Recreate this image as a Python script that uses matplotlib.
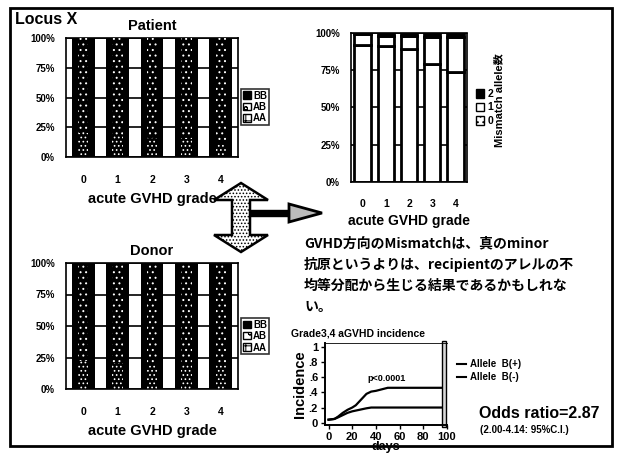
import numpy as np
import matplotlib
matplotlib.use("Agg")
import matplotlib.pyplot as plt
from matplotlib.patches import Patch, Polygon, Rectangle
from matplotlib.lines import Line2D

plt.rcParams['font.family'] = ['Liberation Sans', 'Noto Sans CJK JP']
plt.rcParams['font.weight'] = 'bold'
plt.rcParams['axes.titleweight'] = 'bold'
plt.rcParams['axes.labelweight'] = 'bold'
plt.rcParams['hatch.linewidth'] = 0.7

# genotype distribution (%) by acute GVHD grade
grades = ['0', '1', '2', '3', '4']
patient_AA = [20, 18, 16, 15, 12]
patient_AB = [50, 48, 50, 47, 45]
patient_BB = [30, 34, 34, 38, 43]
donor_AA = [22, 21, 20, 19, 20]
donor_AB = [48, 50, 49, 50, 48]
donor_BB = [30, 29, 31, 31, 32]

# number of mismatched alleles (%)
mm_0 = [92, 91, 89, 79, 74]
mm_1 = [7, 7, 9, 18, 23]
mm_2 = [1, 2, 2, 3, 3]

# cumulative incidence of grade 3-4 aGVHD
days = [0, 5, 8, 12, 16, 20, 23, 26, 29, 32, 36, 40, 45, 50, 60, 95]
inc_pos = [0.04, 0.05, 0.08, 0.13, 0.17, 0.20, 0.23, 0.28, 0.33, 0.38, 0.41, 0.42, 0.44, 0.46, 0.46, 0.46]
inc_neg = [0.04, 0.05, 0.07, 0.10, 0.13, 0.15, 0.16, 0.17, 0.18, 0.19, 0.20, 0.20, 0.20, 0.20, 0.20, 0.20]

comment_lines = ["GVHD方向のMismatchは、真のminor",
                 "抗原というよりは、recipientのアレルの不",
                 "均等分配から生じる結果であるかもしれな",
                 "い。"]

W, H = 620, 458
fig = plt.figure(figsize=(W / 100, H / 100), dpi=100)


def px(x, y):
    return x / W, 1 - y / H


def ax_at(x0, y0, x1, y1):
    return fig.add_axes([x0 / W, 1 - y1 / H, (x1 - x0) / W, (y1 - y0) / H])


def pct_axes(ax, pad_x):
    ax.set_xlim(-0.5, 4.5)
    ax.set_ylim(0, 100)
    ax.set_yticks([0, 25, 50, 75, 100])
    ax.set_yticklabels(['0%', '25%', '50%', '75%', '100%'], fontsize=7)
    ax.set_xticks(range(5))
    ax.set_xticklabels(grades, fontsize=7.5)
    ax.tick_params(length=0, pad=pad_x, axis='x')
    ax.tick_params(length=0, pad=8, axis='y')
    ax.yaxis.grid(True, color='black', lw=1.2)
    ax.set_axisbelow(True)
    for s in ax.spines.values():
        s.set_color('black')
        s.set_linewidth(1.2)
    ax.set_xlabel('acute GVHD grade', fontsize=10.5, labelpad=5)


def genotype_bars(ax, AA, AB, BB, title):
    x = np.arange(5)
    ax.bar(x, AA, width=0.66, color='black', zorder=2)
    ax.bar(x, AB, bottom=AA, width=0.66, color='black', zorder=2)
    ax.bar(x, BB, bottom=np.add(AA, AB), width=0.66, color='black', zorder=2)
    # speckled inner texture of the stacked segments
    ax.bar(x, AA, width=0.3, facecolor='none', edgecolor='white', hatch='....', lw=0, zorder=3)
    ax.bar(x, AB, bottom=AA, width=0.3, facecolor='none', edgecolor='white', hatch='...', lw=0, zorder=3)
    ax.bar(x, BB, bottom=np.add(AA, AB), width=0.3, facecolor='none', edgecolor='white', hatch='...', lw=0, zorder=3)
    pct_axes(ax, 13)
    ax.set_title(title, fontsize=10.5, pad=6)
    handles = [Patch(facecolor='black', edgecolor='black'),
               Patch(facecolor='white', edgecolor='black', hatch='oo'),
               Patch(facecolor='white', edgecolor='black', hatch='++')]
    leg = ax.legend(handles, ['BB', 'AB', 'AA'], loc='center left', bbox_to_anchor=(1.02, 0.42),
                    fontsize=7, handlelength=0.8, handleheight=0.8, handletextpad=0.2,
                    borderpad=0.2, labelspacing=0.15, frameon=True, fancybox=False, borderaxespad=0)
    leg.get_frame().set_edgecolor('black')
    leg.get_frame().set_linewidth(1.2)


ax1 = ax_at(66, 38, 238, 157)
genotype_bars(ax1, patient_AA, patient_AB, patient_BB, 'Patient')

ax2 = ax_at(66, 263, 238, 389)
genotype_bars(ax2, donor_AA, donor_AB, donor_BB, 'Donor')

# mismatch allele chart
ax3 = ax_at(351, 33, 467, 182)
x = np.arange(5)
ax3.bar(x, mm_0, width=0.7, facecolor='white', edgecolor='black', lw=2, zorder=2)
ax3.bar(x, mm_1, bottom=mm_0, width=0.7, facecolor='white', edgecolor='black', lw=2, zorder=2)
ax3.bar(x, mm_2, bottom=np.add(mm_0, mm_1), width=0.7, facecolor='black', edgecolor='black', lw=2, zorder=2)
pct_axes(ax3, 12)
ax3.spines['right'].set_linestyle((0, (2, 1)))
ax3.set_xlabel('acute GVHD grade', fontsize=10, labelpad=4)
mm_handles = [Patch(facecolor='black', edgecolor='black', hatch='xx'),
              Patch(facecolor='white', edgecolor='black'),
              Patch(facecolor='white', edgecolor='black', hatch='...')]
ax3.legend(mm_handles, ['2', '1', '0'], loc='center left', bbox_to_anchor=(1.04, 0.5),
           fontsize=7.5, handlelength=0.8, handleheight=0.9, handletextpad=0.3,
           labelspacing=0.35, frameon=False, borderaxespad=0)
fig.text(*px(499, 100), 'Mismatch allele数', rotation=90, ha='center', va='center', fontsize=8)

# incidence curves
ax4 = ax_at(325, 343, 447, 425)
ax4.plot(days, inc_pos, color='black', lw=1.6)
ax4.plot(days, inc_neg, color='black', lw=1.6)
ax4.axvspan(96, 99.5, ymin=-0.03, ymax=1.03, facecolor='#d8d8d8', edgecolor='black', lw=1, clip_on=False)
ax4.set_xlim(-3, 100)
ax4.set_ylim(-0.03, 1.05)
ax4.set_xticks([0, 20, 40, 60, 80, 100])
ax4.set_yticks([0, 0.2, 0.4, 0.6, 0.8, 1.0])
ax4.set_yticklabels(['0', '.2', '.4', '.6', '.8', '1'])
ax4.tick_params(labelsize=8, length=3, width=1, pad=2)
ax4.spines['right'].set_visible(False)
ax4.spines['top'].set_linewidth(0.6)
for s in ['left', 'bottom']:
    ax4.spines[s].set_linewidth(1.4)
ax4.set_xlabel('days', fontsize=9, labelpad=-1)
ax4.set_ylabel('Incidence', fontsize=10.5, labelpad=1)
ax4.set_title('Grade3,4 aGVHD incidence', fontsize=7.5, pad=5, loc='left', x=-0.28)
ax4.text(33, 0.55, 'p<0.0001', fontsize=6.5)
ax4.legend([Line2D([], [], color='black', lw=1.5)] * 2, ['Allele  B(+)', 'Allele  B(-)'],
           loc='upper left', bbox_to_anchor=(1.05, 0.85), fontsize=7, frameon=False,
           handlelength=0.9, handletextpad=0.4, labelspacing=0.3, borderaxespad=0)

fig.text(*px(479, 413), 'Odds ratio=2.87', fontsize=11.5, va='center')
fig.text(*px(480, 430), '(2.00-4.14: 95%C.I.)', fontsize=7, va='center')

# Japanese commentary
for i, line in enumerate(comment_lines):
    fig.text(*px(304, 243 + 21.5 * i), line, fontsize=10, va='center',
             family=['Noto Sans CJK JP', 'DejaVu Sans'], fontweight='bold')

fig.text(*px(15, 19), 'Locus X', fontsize=11.5, va='center')

# arrows between panels
up_down = [(241, 183), (268, 200), (250, 200), (250, 235), (268, 235), (241, 252),
           (214, 235), (232, 235), (232, 200), (214, 200)]
fig.patches.append(Polygon([px(*p) for p in up_down], closed=True, transform=fig.transFigure,
                           facecolor='white', edgecolor='black', lw=1.8, hatch='.....'))
fig.patches.append(Rectangle(px(250, 216), 42 / W, 6 / H, transform=fig.transFigure,
                             facecolor='black', edgecolor='black'))
head = [(289, 204), (322, 213), (289, 222)]
fig.patches.append(Polygon([px(*p) for p in head], closed=True, transform=fig.transFigure,
                           facecolor='#bbbbbb', edgecolor='black', lw=2))

# slide border
fig.patches.append(Rectangle(px(10, 446), 602 / W, 438 / H, transform=fig.transFigure,
                             facecolor='none', edgecolor='black', lw=2))

fig.savefig('out.png', dpi=100)
